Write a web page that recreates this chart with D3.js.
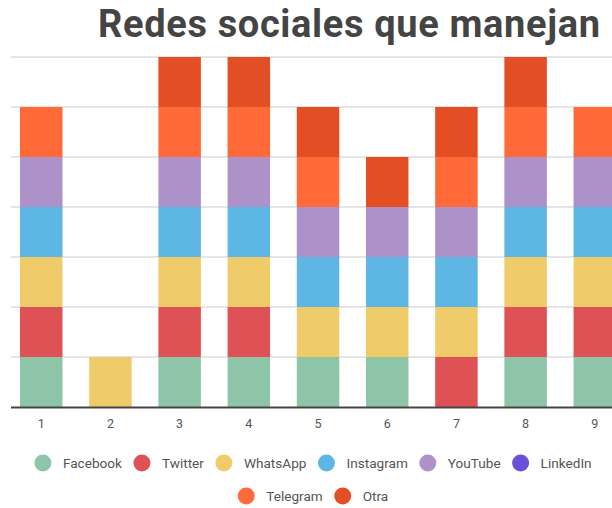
<!DOCTYPE html>
<html><head><meta charset="utf-8">
<script src="https://cdn.jsdelivr.net/npm/d3@7"></script>
<style>
html,body{margin:0;padding:0;background:#fff;overflow:hidden}
svg{display:block;font-family:Roboto,"Noto Sans",sans-serif}
</style></head>
<body>
<svg id="c" width="612" height="508"></svg>
<script>
const title = "Redes sociales que manejan";
const categories = ["1","2","3","4","5","6","7","8","9"];
const seriesNames = ["Facebook","Twitter","WhatsApp","Instagram","YouTube","LinkedIn","Telegram","Otra"];
const seriesColors = ["#8ec4a8","#de5256","#f0cb6a","#5db6e3","#ac92c9","#6a4fd9","#ff6a38","#e44e24"];
const facebook  = [1,0,1,1,1,1,0,1,1];
const twitter   = [1,0,1,1,0,0,1,1,1];
const whatsapp  = [1,1,1,1,1,1,1,1,1];
const instagram = [1,0,1,1,1,1,1,1,1];
const youtube   = [1,0,1,1,1,1,1,1,1];
const linkedin  = [0,0,0,0,0,0,0,0,0];
const telegram  = [1,0,1,1,1,0,1,1,1];
const otra      = [0,0,1,1,1,1,1,1,0];
const yTicks = [0,1,2,3,4,5,6,7];

const seriesValues = [facebook,twitter,whatsapp,instagram,youtube,linkedin,telegram,otra];
const rows = categories.map((c,i)=>{
  const r = {cat:c};
  seriesNames.forEach((s,j)=>r[s]=seriesValues[j][i]);
  return r;
});

const svg = d3.select("#c");
const x = d3.scaleBand().domain(categories).range([6.65, 629.4]).paddingInner(0.386).paddingOuter(0.193);
const y = d3.scaleLinear().domain([0,7]).range([407,57]);

// title
svg.append("text").attr("x",98).attr("y",37).attr("font-size",38).attr("font-weight",700)
  .attr("fill","#444").attr("textLength",502).attr("lengthAdjust","spacing").text(title);

// gridlines
svg.append("g").selectAll("line").data(yTicks.slice(1)).join("line")
  .attr("x1",11).attr("x2",612).attr("y1",d=>y(d)).attr("y2",d=>y(d))
  .attr("stroke","#dcdcdc").attr("stroke-width",1.5);

// stacked bars
const stack = d3.stack().keys(seriesNames)(rows);
const color = d3.scaleOrdinal().domain(seriesNames).range(seriesColors);
svg.append("g").selectAll("g").data(stack).join("g").attr("fill",d=>color(d.key))
  .selectAll("rect").data(d=>d.filter(s=>s[1]-s[0]>0)).join("rect")
  .attr("x",d=>x(d.data.cat)).attr("width",x.bandwidth())
  .attr("y",d=>y(d[1])).attr("height",d=>y(d[0])-y(d[1]));

// baseline axis
const ax = svg.append("g").attr("transform",`translate(0,${y(0)})`)
  .call(d3.axisBottom(x).tickSize(0).tickPadding(12));
ax.select(".domain").remove();
ax.selectAll("text").attr("font-size",12.5).attr("fill","#555").attr("font-family","Roboto,sans-serif");
svg.append("line").attr("x1",11).attr("x2",612).attr("y1",y(0)+0.5).attr("y2",y(0)+0.5)
  .attr("stroke","#444").attr("stroke-width",2);

// legend
const legendRows = [seriesNames.slice(0,6), seriesNames.slice(6)];
const legendY = [463, 496];
const cx = 313;
const r = 8.5, textGap = 20, itemGap = 20;
legendRows.forEach((names,ri)=>{
  const g = svg.append("g");
  const items = names.map(n=>{
    const it = g.append("g");
    it.append("circle").attr("r",r).attr("fill",color(n));
    const t = it.append("text").attr("x",textGap).attr("dy","0.35em").attr("font-size",13.6)
      .attr("fill","#555").text(n);
    return {it,w:t.node().getComputedTextLength()};
  });
  let c = 0;
  items.forEach((o,i)=>{
    o.it.attr("transform",`translate(${c},${legendY[ri]})`);
    if (i<items.length-1) c += textGap + o.w + itemGap;
  });
  const last = items[items.length-1];
  const left = -r, right = c + textGap + last.w;
  g.attr("transform",`translate(${cx - (left+right)/2},0)`);
});
</script>
</body></html>
